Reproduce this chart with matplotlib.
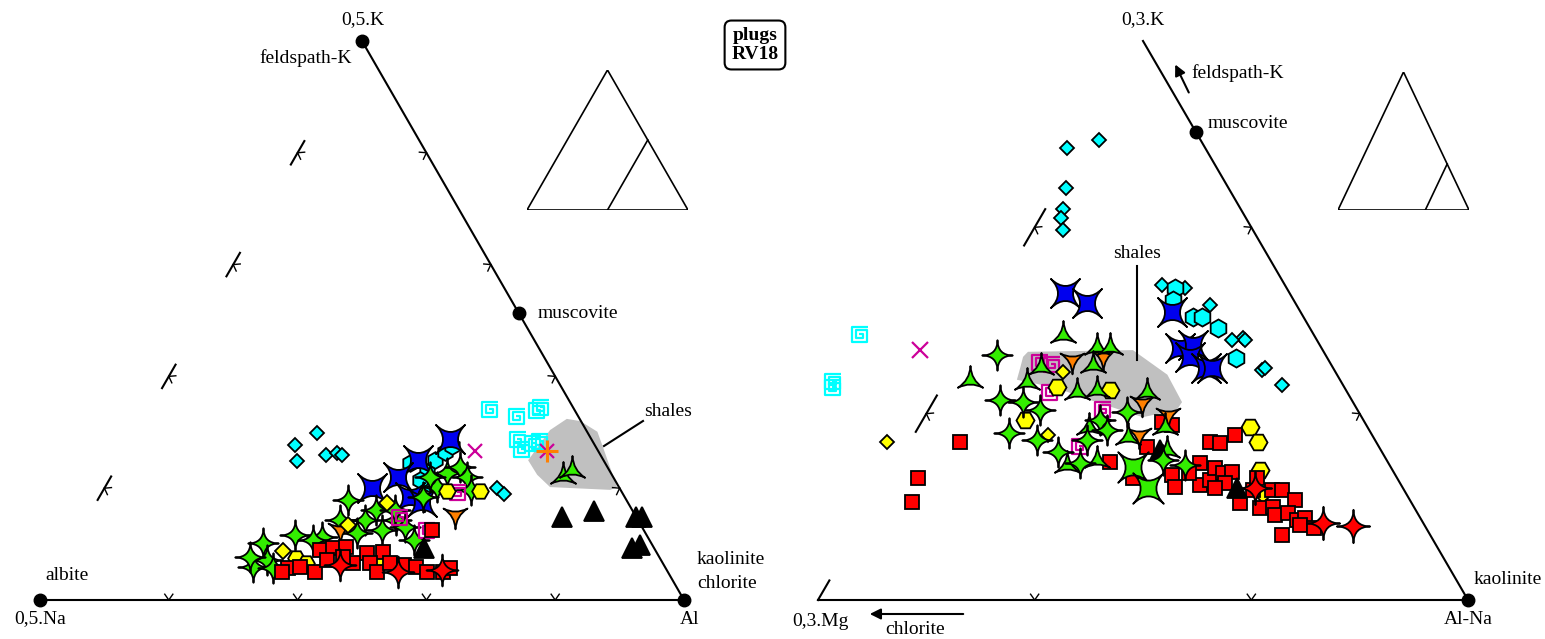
import numpy as np
import matplotlib.pyplot as plt
from matplotlib.path import Path
from matplotlib.patches import Polygon
from matplotlib.lines import Line2D

plt.rcParams['font.family'] = ['Liberation Serif', 'DejaVu Serif']

W, H = 1545, 639

# ---------------- left diagram: 0,5.Na - Al - 0,5.K  (K %, Al %) ----------------
l_cyan_diamond = [(29.9, 28.0), (27.7, 25.7), (24.9, 27.5), (25.9, 31.4), (26.3, 32.9),
                  (25.9, 34.0), (20.0, 61.0), (19.0, 62.5)]
l_cyan_hex = [(24.5, 45.2), (22.9, 48.6), (25.0, 48.8), (26.5, 49.7), (27.5, 50.2),
              (20.8, 50.2), (21.5, 48.3)]
l_blue = [(28.8, 49.3), (25.0, 46.2), (22.0, 44.6), (20.0, 41.6), (18.4, 48.3), (17.5, 50.5)]
l_cyan_spiral = [(34.0, 52.9), (32.7, 57.7), (33.8, 60.3), (34.3, 60.6), (28.6, 59.9),
                 (26.8, 61.4), (27.9, 62.6), (28.3, 63.5)]
l_mag_spiral = [(19.1, 55.3), (12.3, 53.9), (14.7, 48.6)]
l_mag_x = [(26.7, 54.2), (26.7, 65.4)]
l_orange_plus = [(26.7, 65.4)]
l_orange_tri = [(15.2, 56.8), (12.5, 40.3)]
l_green_tri = [(22.2, 70.1), (23.3, 71.0)]
l_green_star = [(10.2, 29.5), (11.6, 33.8), (11.3, 38.2), (17.9, 38.9), (14.3, 43.3),
                (16.1, 44.2), (14.3, 48.2), (13.1, 50.2), (12.5, 46.8), (12.0, 43.2),
                (7.2, 31.6), (5.9, 30.1), (5.7, 33.3), (22.7, 51.8), (23.8, 53.3),
                (22.0, 55.3), (20.2, 51.5), (18.4, 50.3), (22.0, 49.6), (10.7, 37.0),
                (7.7, 28.8), (14.3, 39.4), (10.7, 52.8), (19.7, 57.0), (16.1, 47.0)]
l_yellow_hex = [(7.5, 36.0), (6.6, 38.0), (19.5, 58.5), (19.5, 53.4)]
l_yellow_dia = [(17.4, 45.2), (13.4, 41.1), (6.6, 49.5), (8.8, 33.3)]
l_red_sq = [(12.5, 54.6), (8.9, 39.0), (9.3, 40.8), (9.5, 42.7), (8.4, 46.6), (8.6, 49.0),
            (5.7, 35.6), (5.0, 40.2), (6.6, 45.3), (6.6, 47.9), (5.0, 49.8), (6.6, 51.0),
            (6.3, 53.3), (5.9, 55.5), (5.0, 57.6), (5.0, 60.1), (5.7, 60.8), (7.7, 43.2),
            (7.2, 41.0), (5.9, 37.4), (5.0, 35.1)]
l_red_star = [(5.0, 53.1), (5.4, 59.7), (6.3, 43.5)]
l_black_tri = [(9.3, 54.9), (14.8, 73.7), (15.9, 78.0), (14.8, 85.1), (14.8, 86.1),
               (9.3, 87.2), (9.8, 88.3)]
l_shales = [(25.0, 63.3), (30.4, 64.0), (32.4, 65.6), (32.0, 67.9), (30.1, 71.5),
            (27.4, 73.7), (20.2, 79.5), (19.7, 78.7), (20.2, 69.1), (22.4, 66.0)]
l_muscovite = (51.3, 48.7)

# ---------------- right diagram: 0,3.Mg - Al-Na - 0,3.K  (K %, Al-Na %) ----------------
r_cyan_diamond = [(80.9, -2.2), (82.3, 2.1), (73.7, 1.3), (69.9, 2.8), (68.3, 3.2),
                  (66.2, 4.6), (56.4, 24.7), (55.8, 28.6), (52.8, 33.9), (46.9, 42.0),
                  (46.5, 42.5), (41.1, 47.7), (41.5, 48.0), (38.5, 52.2), (46.5, 40.4)]
r_cyan_hex = [(55.8, 27.0), (53.7, 27.8), (50.6, 32.4), (50.6, 33.8), (48.7, 37.2), (43.3, 42.6)]
r_blue = [(54.9, 10.5), (53.1, 14.8), (51.5, 28.7), (45.1, 33.2), (45.6, 34.9), (43.5, 35.5),
          (41.5, 39.0), (41.5, 39.8)]
r_cyan_spiral = [(47.4, -17.2), (39.0, -17.2), (37.9, -16.7)]
r_mag_x = [(44.7, -6.7)]
r_mag_spiral = [(42.4, 13.0), (42.0, 15.0), (37.0, 17.2), (34.0, 26.8), (27.4, 26.6)]
r_orange_tri = [(42.9, 17.7), (43.5, 22.1), (35.2, 32.2), (33.1, 37.3), (29.5, 34.7)]
r_green_tri = [(47.4, 14.0), (45.3, 20.3), (45.3, 22.3), (41.7, 13.4), (39.0, 12.7),
               (42.0, 21.3), (37.2, 21.2), (37.2, 32.0), (37.6, 24.1), (30.9, 26.3),
               (24.2, 26.2), (25.0, 30.4), (29.2, 33.1), (26.8, 40.3), (30.9, 37.9), (39.4, 3.7)]
r_green_star = [(43.8, 5.6), (35.4, 13.8), (29.9, 14.5), (28.6, 19.4), (26.5, 23.6),
                (34.0, 17.2), (24.5, 28.0), (28.6, 27.1), (32.2, 27.3), (30.4, 29.3),
                (33.6, 30.7), (35.8, 10.1), (25.0, 40.6), (24.2, 44.4)]
r_green_x = [(23.8, 36.6), (20.0, 40.8)]
r_yellow_hex = [(38.1, 17.7), (37.6, 26.1), (32.2, 15.7), (30.9, 51.0), (28.3, 53.6), (23.3, 56.4)]
r_yellow_dia = [(40.8, 17.3), (29.5, 20.6), (18.6, 59.2), (35.2, 13.9), (28.3, -3.5)]
r_red_sq = [(31.8, 37.0), (31.3, 38.8), (27.4, 36.9), (24.7, 32.6), (28.3, 46.2), (28.1, 47.8),
            (29.5, 49.4), (22.4, 43.3), (20.2, 44.8), (24.5, 46.5), (20.6, 48.5), (21.5, 49.6),
            (23.6, 49.3), (22.7, 50.9), (22.9, 52.2), (20.9, 52.1), (20.0, 51.1), (22.7, 45.8),
            (19.7, 60.0), (19.7, 61.6), (17.9, 64.5), (17.4, 56.2), (16.5, 59.8), (16.6, 61.7),
            (15.2, 62.7), (15.6, 64.5), (14.3, 66.5), (14.7, 67.6), (13.4, 67.5), (12.9, 69.8),
            (11.6, 65.6), (21.8, 37.6), (19.7, 57.0), (21.8, 56.6), (28.3, 7.7), (21.8, 4.5),
            (17.5, 5.7)]
r_red_star = [(20.0, 57.2), (13.8, 70.8), (13.2, 75.7)]
r_black_tri = [(26.8, 39.2), (20.0, 54.5)]
r_shales = [(43.5, 9.8), (44.4, 10.1), (44.7, 26.1), (40.3, 33.6), (35.4, 38.3), (34.0, 38.2),
            (32.7, 33.6), (35.8, 23.9), (37.9, 17.8), (39.4, 10.9), (41.7, 10.3)]
r_muscovite = (83.7, 16.3)

GREEN = '#33ee00'
CYAN = '#00ffff'
MAG = '#cc0099'


def tern(pts):
    a = np.atleast_2d(np.asarray(pts, float))
    k, al = a[:, 0], a[:, 1]
    return al + k / 2, k * np.sqrt(3) / 2


def star(n, ctrl=0.0, rot=0.0):
    # star with concave (curved) sides between the tips
    t = np.arange(n) * 2 * np.pi / n + np.pi / 2 + np.deg2rad(rot)
    tips = np.column_stack([np.cos(t), np.sin(t)])
    verts, codes = [tips[0]], [Path.MOVETO]
    for i in range(n):
        a, b = tips[i], tips[(i + 1) % n]
        m = (a + b) / 2
        c = m / np.hypot(*m) * ctrl
        verts += [c, b]
        codes += [Path.CURVE3, Path.CURVE3]
    verts.append(tips[0])
    codes.append(Path.CLOSEPOLY)
    return Path(np.array(verts), codes)


STAR4 = star(4, 0.02)
STARX = star(4, 0.02, 45)
TRI_UP = star(3, 0.05)
TRI_DN = star(3, 0.05, 180)
SPIRAL = Path([(-0.1, 0.1), (0.3, 0.1), (0.3, -0.35), (-0.5, -0.35), (-0.5, 0.55),
               (0.75, 0.55), (0.75, -0.8), (-0.9, -0.8), (-0.9, 0.95), (0.9, 0.95)])


def pts(ax, data, marker, size, fc, ec='black', mew=1.3, z=3):
    x, y = tern(data)
    ax.plot(x, y, ls='none', marker=marker, ms=size, mfc=fc, mec=ec, mew=mew, zorder=z)


def spiral(ax, data, color, z=3):
    x, y = tern(data)
    ax.plot(x, y, ls='none', marker=SPIRAL, ms=12, mfc='none', mec=color, mew=1.6, zorder=z)


fig = plt.figure(figsize=(W / 100, H / 100), dpi=100)


def panel(x0, x1, xl, xr):
    ax = fig.add_axes([x0 / W, 0, (x1 - x0) / W, 1])
    ax.set_xlim(xl, xr)
    ax.set_ylim(-39 / 6.455, 600 / 6.455)
    ax.axis('off')
    return ax


axL = panel(0, 772, -40 / 6.44, 732 / 6.44)
axR = panel(772, 1545, -46 / 6.5, 727 / 6.5)

h = np.sqrt(3) / 2 * 100
for ax in (axL, axR):
    ax.plot([0, 100, 50], [0, 0, h], color='black', lw=1.5, zorder=2)


def chevrons(ax, a, b, fracs, size=0.9):
    # small ticks: apex on the edge, arms pointing into the triangle
    a, b = np.array(a, float), np.array(b, float)
    d = (b - a) / np.hypot(*(b - a))
    n = np.array([-d[1], d[0]])  # inward normal (counter-clockwise edges)
    for f in fracs:
        p = a + f * (b - a)
        for s in (1, -1):
            q = p + n * size + s * d * size * 0.7
            ax.plot([p[0], q[0]], [p[1], q[1]], color='black', lw=1.0, zorder=2)


def left_edge(ax, fracs, length, one_sided=False):
    a, b = np.array([50, h]), np.array([0.0, 0.0])
    d = (b - a) / 100
    for f in fracs:
        p = a + f * (b - a)
        if one_sided:
            s, e = p - d * length, p
        else:
            s, e = p - d * length / 2, p + d * length / 2
        ax.plot([s[0], e[0]], [s[1], e[1]], color='black', lw=1.5, zorder=2)


# left diagram frame details
chevrons(axL, (0, 0), (100, 0), [0.2, 0.4, 0.6, 0.8])
chevrons(axL, (100, 0), (50, h), [0.2, 0.4, 0.6, 0.8])
left_edge(axL, [0.2, 0.4, 0.6, 0.8], 4.2)
chevrons(axL, (50, h), (0, 0), [0.2, 0.4, 0.6, 0.8])

# right diagram frame details
chevrons(axR, (0, 0), (100, 0), [1 / 3, 2 / 3])
chevrons(axR, (100, 0), (50, h), [1 / 3, 2 / 3])
left_edge(axR, [1 / 3, 2 / 3], 6.5)
left_edge(axR, [1.0], 3.5, one_sided=True)
chevrons(axR, (50, h), (0, 0), [1 / 3, 2 / 3])

# shales fields
for ax, poly in ((axL, l_shales), (axR, r_shales)):
    x, y = tern(poly)
    ax.add_patch(Polygon(np.column_stack([x, y]), closed=True, fc='#c0c0c0', ec='none', zorder=1))

# left data
spiral(axL, l_cyan_spiral, CYAN)
pts(axL, l_cyan_diamond, 'D', 7.5, CYAN)
pts(axL, l_cyan_hex, 'h', 12, CYAN)
pts(axL, l_blue, STARX, 21, '#0000ee')
pts(axL, l_green_star, STAR4, 22, GREEN)
pts(axL, l_green_tri, TRI_UP, 21, GREEN)
spiral(axL, l_mag_spiral, MAG, z=4)
pts(axL, l_mag_x, 'x', 10, MAG, ec=MAG, mew=1.6, z=4)
pts(axL, l_orange_plus, '+', 16, '#ff8000', ec='#ff8000', mew=2.2, z=4)
pts(axL, l_orange_tri, TRI_DN, 20, '#ff8000', z=4)
pts(axL, l_yellow_hex, 'H', 12, '#ffff00', z=4)
pts(axL, l_yellow_dia, 'D', 8, '#ffff00', z=4)
pts(axL, l_red_sq, 's', 10, '#ff0000', z=5)
pts(axL, l_red_star, STAR4, 23, '#ff0000', z=5)
pts(axL, l_black_tri, '^', 14, 'black', z=5)

# right data
spiral(axR, r_cyan_spiral, CYAN)
pts(axR, r_cyan_diamond, 'D', 7.5, CYAN)
pts(axR, r_cyan_hex, 'h', 13, CYAN)
pts(axR, r_blue, STARX, 21, '#0000ee')
spiral(axR, r_mag_spiral, MAG)
pts(axR, r_mag_x, 'x', 11, MAG, ec=MAG, mew=1.6)
pts(axR, r_yellow_hex, 'H', 13, '#ffff00')
pts(axR, r_yellow_dia, 'D', 7.5, '#ffff00')
pts(axR, r_red_sq, 's', 10, '#ff0000', z=4)
pts(axR, r_black_tri, '^', 14, 'black', z=4)
pts(axR, r_orange_tri, TRI_DN, 20, '#ff8000', z=4)
pts(axR, r_green_tri, TRI_UP, 21, GREEN, z=4)
pts(axR, r_green_star, STAR4, 22, GREEN, z=4)
pts(axR, r_green_x, STARX, 22, GREEN, z=4)
pts(axR, r_red_star, STAR4, 24, '#ff0000', z=5)

# reference minerals
for ax, ref in ((axL, [(100, 0), (0, 0), (0, 100), l_muscovite]),
                (axR, [(0, 100), r_muscovite])):
    x, y = tern(ref)
    ax.plot(x, y, ls='none', marker='o', ms=9, color='black', zorder=6)


def lab(px, py, s, ha='left', **kw):
    fig.text(px / W, 1 - py / H, s, ha=ha, va='center', fontsize=14, **kw)


def line(p, q, **kw):
    fig.add_artist(Line2D([p[0] / W, q[0] / W], [1 - p[1] / H, 1 - q[1] / H],
                          transform=fig.transFigure, color='black', lw=1.5, **kw))


# left labels
lab(363, 20, '0,5.K', ha='center')
lab(352, 58, 'feldspath-K', ha='right')
lab(538, 313, 'muscovite')
lab(45, 576, 'albite')
lab(40, 619, '0,5.Na', ha='center')
lab(690, 619, 'Al', ha='center')
lab(697, 560, 'kaolinite')
lab(697, 584, 'chlorite')
lab(644, 411, 'shales')
line((643, 421), (604, 446))

# right labels
lab(1143, 20, '0,3.K', ha='center')
lab(1191, 73, 'feldspath-K')
lab(1208, 123, 'muscovite')
lab(1474, 580, 'kaolinite')
lab(1468, 619, 'Al-Na', ha='center')
lab(820, 621, '0,3.Mg', ha='center')
lab(915, 630, 'chlorite', ha='center')
lab(1137, 254, 'shales', ha='center')
line((1137, 266), (1137, 360))

axR.annotate('', xy=(1174 / W, 1 - 62 / H), xytext=(1190 / W, 1 - 95 / H),
             xycoords='figure fraction', textcoords='figure fraction',
             arrowprops=dict(arrowstyle='-|>', color='black', lw=1.5, mutation_scale=16))
axR.annotate('', xy=(867 / W, 1 - 614 / H), xytext=(966 / W, 1 - 614 / H),
             xycoords='figure fraction', textcoords='figure fraction',
             arrowprops=dict(arrowstyle='-|>', color='black', lw=1.5, mutation_scale=16))

fig.text(755 / W, 1 - 45 / H, 'plugs\nRV18', ha='center', va='center', fontsize=14,
         fontweight='bold', linespacing=1.1,
         bbox=dict(boxstyle='round,pad=0.35', fc='white', ec='black', lw=1.5))

# small location triangles
for (x0, x1, y0, y1), f in (((527, 688, 70, 210), 0.5), ((1338, 1469, 72, 210), 2 / 3)):
    ins = fig.add_axes([x0 / W, 1 - y1 / H, (x1 - x0) / W, (y1 - y0) / H])
    ins.plot([0, 1, 0.5, 0], [0, 0, 1, 0], color='black', lw=1.2)
    ins.plot([f, f + (1 - f) / 2], [0, 1 - f], color='black', lw=1.2)
    ins.set_xlim(0, 1)
    ins.set_ylim(0, 1)
    ins.axis('off')

fig.savefig('out.png', dpi=100)
